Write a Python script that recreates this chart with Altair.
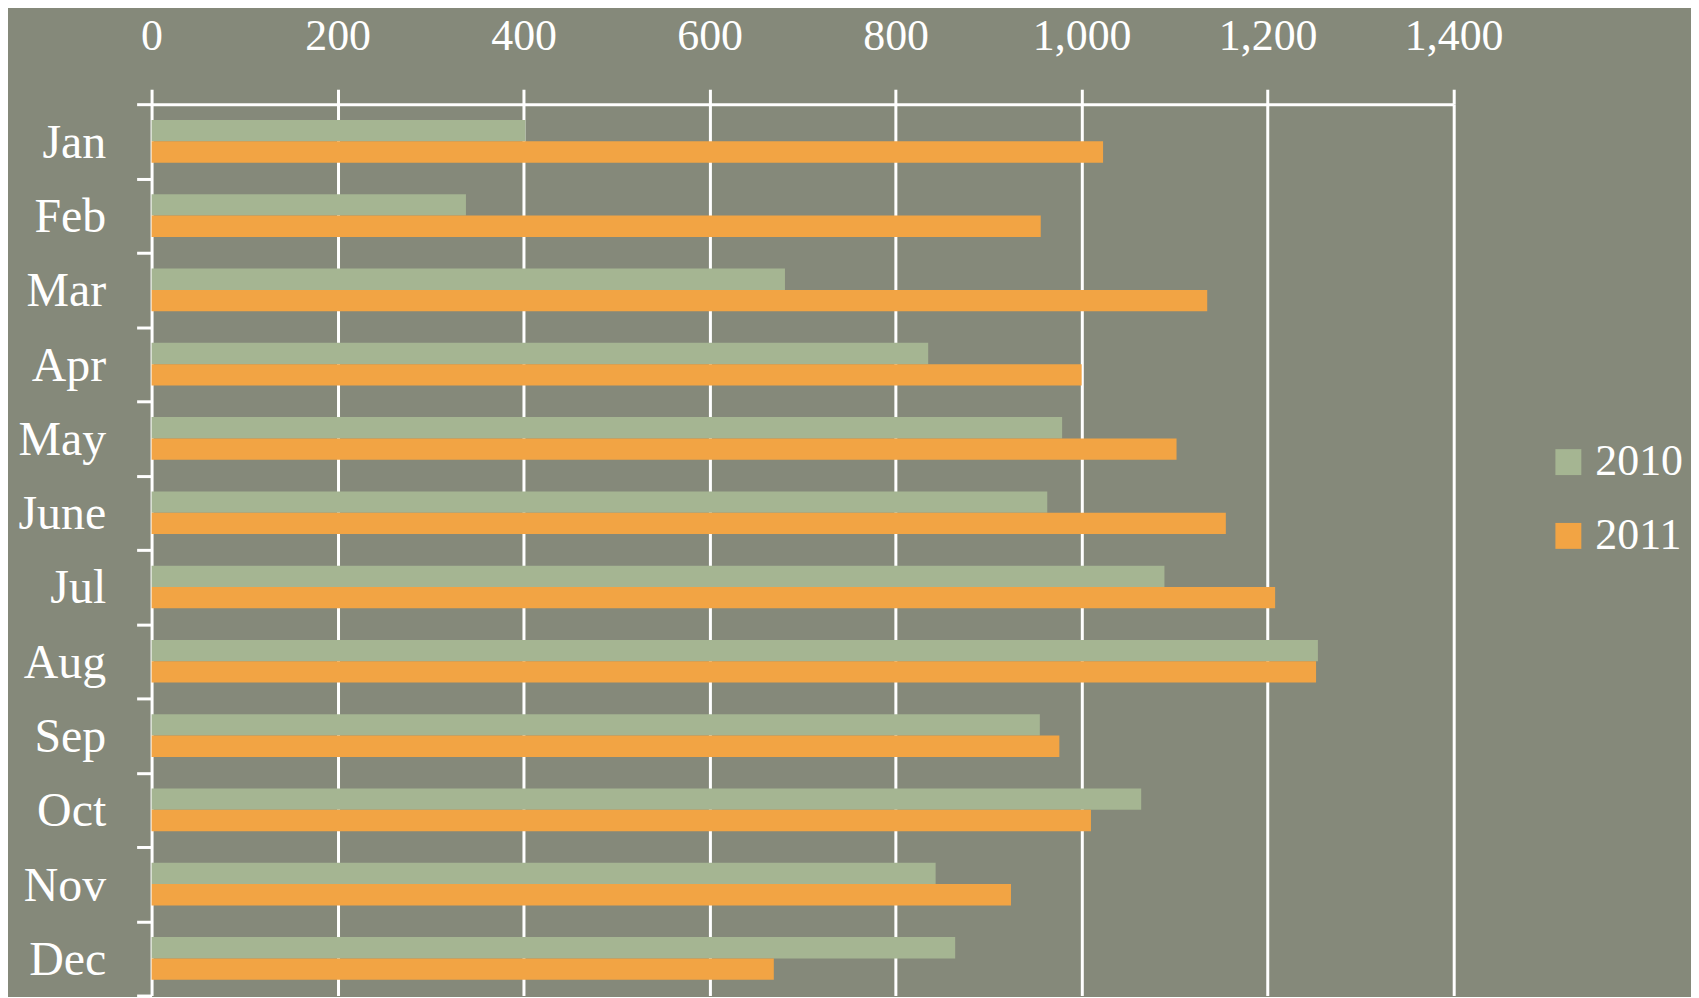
import altair as alt
import pandas as pd

months = ["Jan", "Feb", "Mar", "Apr", "May", "June", "Jul", "Aug", "Sep", "Oct", "Nov", "Dec"]
years = ["2010", "2011"]
values_2010 = [402, 338, 681, 835, 979, 963, 1089, 1254, 955, 1064, 843, 864]
values_2011 = [1023, 956, 1135, 1000, 1102, 1155, 1208, 1252, 976, 1010, 924, 669]
x_ticks = [0, 200, 400, 600, 800, 1000, 1200, 1400]
colors = ["#a5b592", "#f2a444"]

rows = []
for m, a, b in zip(months, values_2010, values_2011):
    rows.append({"month": m, "year": years[0], "value": a})
    rows.append({"month": m, "year": years[1], "value": b})
df = pd.DataFrame(rows)

FONT = "Liberation Serif"
BG = "#85897a"

chart = alt.Chart(df).mark_bar().encode(
    y=alt.Y("month:N", sort=months, title=None,
            scale=alt.Scale(paddingInner=0, paddingOuter=0),
            axis=alt.Axis(tickBand="extent", domain=False, grid=False,
                          ticks=True, tickColor="white", tickSize=15, tickWidth=3,
                          labelColor="white", labelFont=FONT, labelFontSize=48,
                          labelPadding=31, labelBaseline="middle", labelOffset=2)),
    yOffset=alt.YOffset("year:N", sort=years,
                        scale=alt.Scale(paddingInner=0, paddingOuter=0.74)),
    x=alt.X("value:Q", title=None,
            scale=alt.Scale(domain=[0, 1400], nice=False),
            axis=alt.Axis(orient="top", values=x_ticks, format=",d",
                          labelOverlap=False, labelFlush=False,
                          domain=True, domainColor="white", domainWidth=3,
                          grid=True, gridColor="white", gridWidth=3, gridOpacity=1,
                          ticks=True, tickColor="white", tickSize=15, tickWidth=3,
                          labelColor="white", labelFont=FONT, labelFontSize=44,
                          labelPadding=40, labelBaseline="alphabetic")),
    color=alt.Color("year:N", sort=years,
                    scale=alt.Scale(domain=years, range=colors),
                    legend=alt.Legend(title=None, orient="none", legendX=1399, legendY=337,
                                      direction="vertical", symbolType="square",
                                      symbolSize=676, symbolStrokeWidth=0, symbolOpacity=1,
                                      labelColor="white", labelFont=FONT, labelFontSize=44,
                                      labelOffset=5, rowPadding=30, padding=0)),
).properties(
    width=1306,
    height=894,
    autosize=alt.AutoSizeParams(type="none"),
    padding={"left": 144, "top": 95, "right": 238, "bottom": 0},
    background=BG,
).configure_view(stroke=None)

chart.save("out.html", embed_options={"renderer": "svg", "actions": False})
